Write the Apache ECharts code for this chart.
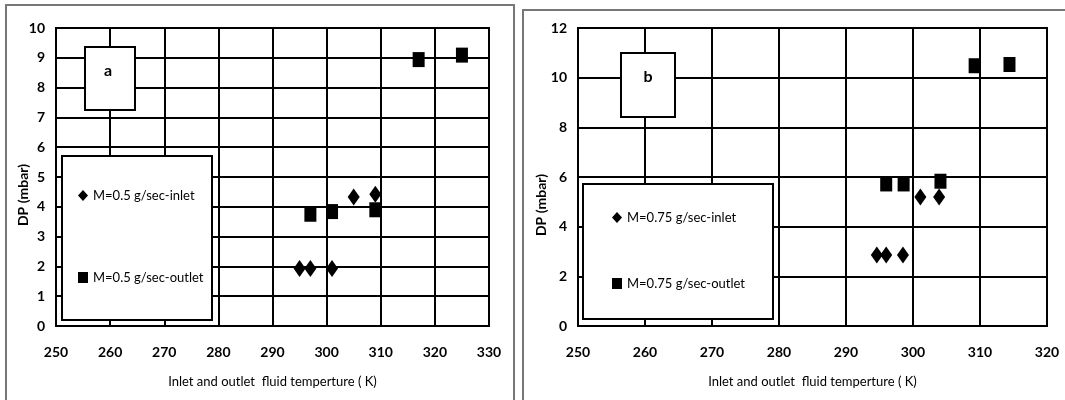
<!DOCTYPE html>
<html>
<head>
<meta charset="utf-8">
<script src="https://cdn.jsdelivr.net/npm/echarts@6/dist/echarts.min.js"></script>
<style>html,body{margin:0;padding:0;background:#fff}#c{width:1065px;height:400px}</style>
</head>
<body>
<div id="c"></div>
<script>
// ---- data ----
const inletA  = [[295, 1.93], [297, 1.93], [301, 1.93], [305, 4.33], [309, 4.42]];
const outletA = [[297, 3.75], [301, 3.84], [309, 3.90], [317, 8.94], [325, 9.09]];
const inletB  = [[294.6, 2.86], [296, 2.86], [298.5, 2.86], [301.1, 5.19], [303.9, 5.19]];
const outletB = [[296, 5.72], [298.6, 5.72], [304.1, 5.83], [309.2, 10.48], [314.4, 10.53]];
const namesA = ['M=0.5 g/sec-inlet', 'M=0.5 g/sec-outlet'];
const namesB = ['M=0.75 g/sec-inlet', 'M=0.75 g/sec-outlet'];
const xTitle = 'Inlet and outlet  fluid temperture ( K)';
const yTitle = 'DP (mbar)';
const panelLabels = ['a', 'b'];

const FONT = 'Lato, "Liberation Sans", Arial, sans-serif';

function xAxis(gi, max) {
  return {
    type: 'value', gridIndex: gi, min: 250, max: max, interval: 10,
    axisLine: {show: true, lineStyle: {color: '#000', width: 2}},
    axisTick: {show: false},
    splitLine: {show: true, lineStyle: {color: '#000', width: 2}},
    axisLabel: {color: '#000', fontFamily: FONT, fontSize: 14, fontWeight: 'bold', margin: 19},
    name: xTitle, nameLocation: 'middle', nameGap: 49,
    nameTextStyle: {color: '#000', fontFamily: FONT, fontSize: 13}
  };
}
function yAxis(gi, max, interval) {
  return {
    type: 'value', gridIndex: gi, min: 0, max: max, interval: interval,
    axisLine: {show: true, lineStyle: {color: '#000', width: 2}},
    axisTick: {show: false},
    splitLine: {show: true, lineStyle: {color: '#000', width: 2}},
    axisLabel: {color: '#000', fontFamily: FONT, fontSize: 14, fontWeight: 'bold', margin: 11}
  };
}
function scatter(name, data, gi, sym, size) {
  return {
    type: 'scatter', name: name, data: data, xAxisIndex: gi, yAxisIndex: gi,
    symbol: sym, symbolSize: size, itemStyle: {color: '#000', opacity: 1}, z: 5
  };
}
function legend(names, left, top, gap) {
  return {
    data: names, orient: 'vertical', left: left, top: top, itemGap: gap, padding: 0,
    itemWidth: 10, itemHeight: 11, itemTextGap: 1,
    itemStyle: {opacity: 1},
    textStyle: {color: '#000', fontFamily: FONT, fontSize: 13}, z: 10
  };
}

const chart = echarts.init(document.getElementById('c'));
chart.setOption({
  animation: false,
  grid: [
    {left: 56, top: 28, width: 433, height: 298, show: true, borderColor: '#000', borderWidth: 2},
    {left: 578, top: 28, width: 469, height: 298, show: true, borderColor: '#000', borderWidth: 2}
  ],
  xAxis: [xAxis(0, 330), xAxis(1, 320)],
  yAxis: [yAxis(0, 10, 1), yAxis(1, 12, 2)],
  legend: [legend(namesA, 78, 189, 69), legend(namesB, 612, 211, 53)],
  series: [
    scatter(namesA[0], inletA, 0, 'diamond', [12, 17]),
    scatter(namesA[1], outletA, 0, 'rect', [12, 15]),
    scatter(namesB[0], inletB, 1, 'diamond', [12, 17]),
    scatter(namesB[1], outletB, 1, 'rect', [12, 15])
  ],
  graphic: [
    // panel frames
    {type: 'rect', shape: {x: 6, y: 5, width: 508, height: 420}, style: {fill: null, stroke: '#777', lineWidth: 2}, z: 1},
    {type: 'polyline', shape: {points: [[523, 420], [523, 10], [1070, 10]]}, style: {fill: null, stroke: '#777', lineWidth: 2}, z: 1},
    // legend boxes
    {type: 'rect', shape: {x: 62, y: 156, width: 150, height: 164}, style: {fill: '#fff', stroke: '#000', lineWidth: 2}, z: 3},
    {type: 'rect', shape: {x: 583, y: 184, width: 190, height: 135}, style: {fill: '#fff', stroke: '#000', lineWidth: 2}, z: 3},
    // panel label boxes
    {type: 'rect', shape: {x: 85, y: 47, width: 50, height: 63}, style: {fill: '#fff', stroke: '#000', lineWidth: 2}, z: 3},
    {type: 'text', x: 108, y: 71, style: {text: panelLabels[0], fill: '#000', font: 'bold 16px ' + FONT, align: 'center', verticalAlign: 'middle'}, z: 4},
    {type: 'rect', shape: {x: 621, y: 53, width: 54, height: 64}, style: {fill: '#fff', stroke: '#000', lineWidth: 2}, z: 3},
    {type: 'text', x: 648, y: 77, style: {text: panelLabels[1], fill: '#000', font: 'bold 16px ' + FONT, align: 'center', verticalAlign: 'middle'}, z: 4},
    // y titles
    {type: 'text', x: 23, y: 195, rotation: Math.PI / 2, style: {text: yTitle, fill: '#000', font: 'bold 14px ' + FONT, align: 'center', verticalAlign: 'middle'}, z: 4},
    {type: 'text', x: 541, y: 205, rotation: Math.PI / 2, style: {text: yTitle, fill: '#000', font: 'bold 14px ' + FONT, align: 'center', verticalAlign: 'middle'}, z: 4}
  ]
});
</script>
</body>
</html>
